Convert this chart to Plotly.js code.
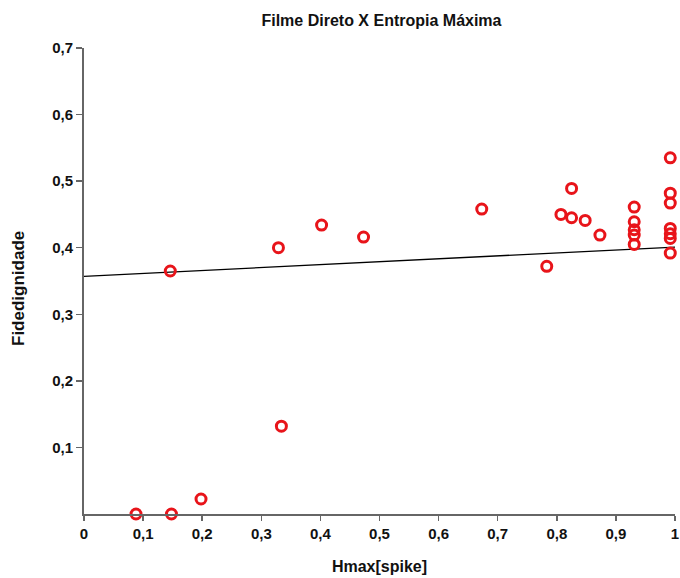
<!DOCTYPE html>
<html>
<head>
<meta charset="utf-8">
<script src="https://cdn.plot.ly/plotly-3.0.1.min.js"></script>
<style>html,body{margin:0;padding:0;background:#fff;}#chart{width:680px;height:578px;}</style>
</head>
<body>
<div id="chart"></div>
<script>
const hmax = [0.088, 0.148, 0.198, 0.146, 0.334, 0.329, 0.402, 0.473, 0.673, 0.783, 0.807, 0.825, 0.825, 0.848, 0.873,
              0.931, 0.931, 0.931, 0.931, 0.931, 0.992, 0.992, 0.992, 0.992, 0.992, 0.992, 0.992];
const fidedignidade = [0.0, 0.0, 0.0225, 0.365, 0.132, 0.400, 0.434, 0.416, 0.458, 0.372, 0.450, 0.489, 0.445, 0.441, 0.419,
              0.461, 0.439, 0.427, 0.419, 0.405, 0.535, 0.482, 0.467, 0.429, 0.421, 0.414, 0.392];
const fitX = [0, 1];
const fitY = [0.357, 0.401];
const xTicks = [0, 0.1, 0.2, 0.3, 0.4, 0.5, 0.6, 0.7, 0.8, 0.9, 1];
const yTicks = [0.1, 0.2, 0.3, 0.4, 0.5, 0.6, 0.7];

const font = 'Liberation Sans, Arial, sans-serif';
const data = [
  {x: fitX, y: fitY, mode: 'lines', type: 'scatter', line: {color: '#000', width: 1.3}, hoverinfo: 'skip', cliponaxis: false},
  {x: hmax, y: fidedignidade, mode: 'markers', type: 'scatter', cliponaxis: false,
   marker: {symbol: 'circle-open', size: 10, color: '#e8141a', line: {width: 3, color: '#e8141a'}}}
];
const layout = {
  width: 680, height: 578,
  margin: {l: 84, r: 5, t: 48, b: 64},
  paper_bgcolor: '#fff', plot_bgcolor: '#fff',
  showlegend: false,
  separators: ',.',
  font: {family: font, color: '#111'},
  title: {text: '<b>Filme Direto X Entropia Máxima</b>', x: 0.561, xanchor: 'center', y: 0.965, yanchor: 'middle',
          font: {family: font, size: 16, color: '#111'}},
  xaxis: {range: [0, 1], tickvals: xTicks, ticktext: xTicks.map(v => String(v).replace('.', ',')),
          ticklabeloverflow: 'allow',
          showgrid: false, zeroline: false, showline: true, linecolor: '#666', linewidth: 2,
          ticks: 'outside', ticklen: 5, tickwidth: 1.5, tickcolor: '#666',
          tickfont: {family: font, size: 15, color: '#111', weight: 'bold'},
          title: {text: '<b>Hmax[spike]</b>', font: {family: font, size: 16, color: '#111'}, standoff: 20}},
  yaxis: {range: [0, 0.7], tickvals: yTicks, ticktext: yTicks.map(v => String(v).replace('.', ',')),
          showgrid: false, zeroline: false, showline: true, linecolor: '#666', linewidth: 2,
          ticks: 'outside', ticklen: 6, tickwidth: 1.5, tickcolor: '#666',
          tickfont: {family: font, size: 15, color: '#111', weight: 'bold'}},
  annotations: [{text: '<b>Fidedignidade</b>', textangle: -90, showarrow: false,
                 xref: 'paper', yref: 'paper', x: 0, y: 0.5, xshift: -66, yshift: -8,
                 xanchor: 'center', yanchor: 'middle',
                 font: {family: font, size: 17, color: '#111'}}]
};
Plotly.newPlot('chart', data, layout, {displayModeBar: false, staticPlot: true});
</script>
</body>
</html>
